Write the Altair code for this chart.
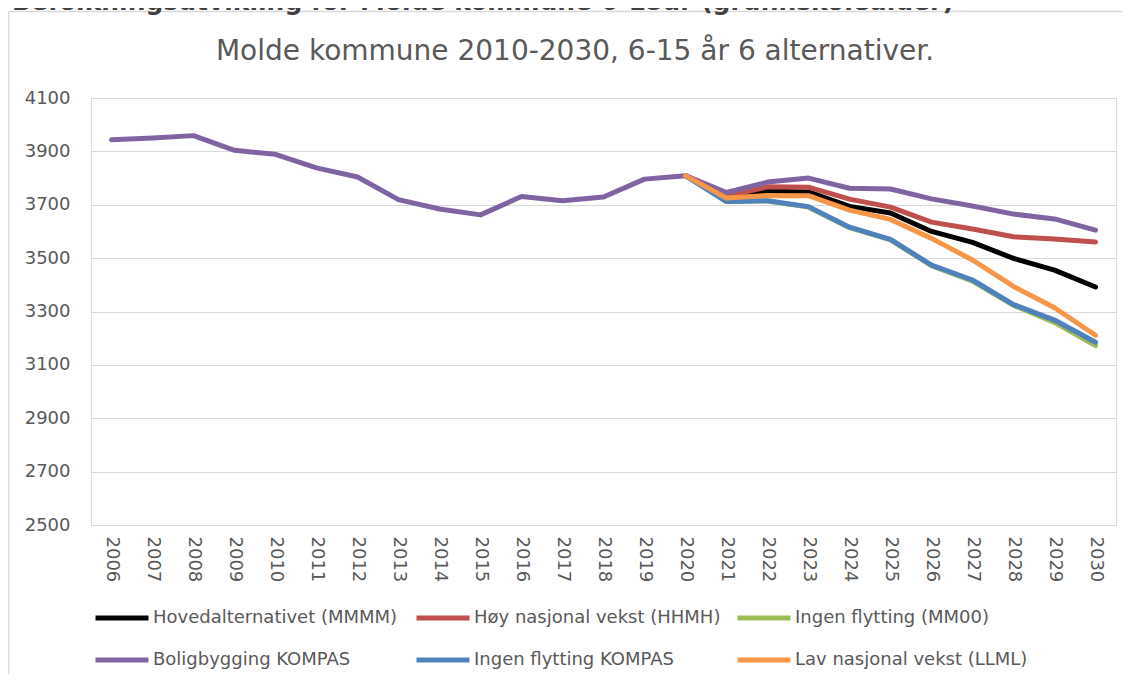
import altair as alt
import pandas as pd

# ---------------- data ----------------
years = [str(y) for y in range(2006, 2031)]
hist_years = years[:15]          # 2006-2020
proj_years = years[14:]          # 2020-2030

series_names = [
    "Hovedalternativet (MMMM)",
    "Høy nasjonal vekst (HHMH)",
    "Ingen flytting (MM00)",
    "Boligbygging KOMPAS",
    "Ingen flytting KOMPAS",
    "Lav nasjonal vekst (LLML)",
]
series_colors = ["#000000", "#C0504D", "#9BBB59", "#8064A2", "#4F81BD", "#F79646"]

# historical values (shown with the Boligbygging KOMPAS series)
historical = [3944, 3950, 3959, 3904, 3889, 3838, 3804, 3719, 3684, 3662,
              3731, 3715, 3729, 3796, 3809]

# projections 2020-2030
hovedalternativet = [3809, 3727, 3751, 3748, 3694, 3669, 3600, 3559, 3499, 3455, 3392]
hoy_vekst = [3809, 3732, 3767, 3766, 3721, 3691, 3635, 3609, 3580, 3572, 3560]
ingen_flytting = [3809, 3712, 3714, 3691, 3614, 3568, 3472, 3414, 3323, 3259, 3172]
boligbygging = [3809, 3746, 3785, 3800, 3762, 3759, 3722, 3695, 3665, 3647, 3605]
ingen_flytting_kompas = [3809, 3712, 3715, 3693, 3616, 3570, 3474, 3418, 3326, 3268, 3185]
lav_vekst = [3809, 3725, 3735, 3734, 3680, 3645, 3574, 3493, 3394, 3314, 3211]

y_ticks = [2500, 2700, 2900, 3100, 3300, 3500, 3700, 3900, 4100]

main_title = "Molde kommune 2010-2030, 6-15 år 6 alternativer."
page_title = "Befolkningsutvikling for Molde kommune 6-15år (grunnskolealder)"

# ---------------- table ----------------
series_values = [
    (series_names[0], proj_years, hovedalternativet),
    (series_names[1], proj_years, hoy_vekst),
    (series_names[2], proj_years, ingen_flytting),
    (series_names[3], hist_years + proj_years[1:], historical + boligbygging[1:]),
    (series_names[4], proj_years, ingen_flytting_kompas),
    (series_names[5], proj_years, lav_vekst),
]
rows = []
for k, (name, yrs, vals) in enumerate(series_values):
    for yr, v in zip(yrs, vals):
        rows.append({"series": name, "year": yr, "value": v, "z": k})
df = pd.DataFrame(rows)

# ---------------- styling ----------------
W, H = 1025, 427
FONT = "DejaVu Sans"
GRAY = "#595959"
GRID = "#d9d9d9"

lines = alt.Chart(df).mark_line(
    strokeWidth=5, strokeCap="round", strokeJoin="round"
).encode(
    x=alt.X("year:O", sort=years, scale=alt.Scale(domain=years),
            axis=alt.Axis(title=None, labelAngle=90, labelFont=FONT, labelFontSize=18,
                          labelColor=GRAY, ticks=False, domain=False, grid=False,
                          labelPadding=11)),
    y=alt.Y("value:Q", scale=alt.Scale(domain=[2500, 4100], nice=False, zero=False),
            axis=alt.Axis(title=None, values=y_ticks, format="d", ticks=False,
                          domain=False, grid=True, gridColor=GRID, gridWidth=1,
                          labelFont=FONT, labelFontSize=18, labelColor=GRAY,
                          labelPadding=21)),
    color=alt.Color("series:N",
                    scale=alt.Scale(domain=series_names, range=series_colors),
                    legend=alt.Legend(title=None, orient="none", legendX=2, legendY=510,
                                      direction="horizontal", columns=3, gridAlign="all",
                                      columnPadding=14, rowPadding=22, clipHeight=20,
                                      symbolType="stroke", symbolSize=2809,
                                      symbolStrokeWidth=5, labelFont=FONT,
                                      labelFontSize=18, labelColor=GRAY, labelOffset=2,
                                      padding=0, labelLimit=400)),
    detail="z:O",
)

one = pd.DataFrame({"t": [main_title], "p": [page_title]})

title_mark = alt.Chart(one).mark_text(
    font=FONT, fontSize=28, color=GRAY, align="center", baseline="alphabetic"
).encode(text="t:N", x=alt.value(484), y=alt.value(-38))

page_title_mark = alt.Chart(one).mark_text(
    font=FONT, fontSize=25, fontWeight="bold", color="#404040", align="left",
    baseline="alphabetic"
).encode(text="p:N", x=alt.value(-79), y=alt.value(-88))

border_left = alt.Chart(one).mark_rule(color=GRID, strokeWidth=1.5).encode(
    x=alt.value(-82.5), y=alt.value(-86.5), y2=alt.value(H + 160))
border_top = alt.Chart(one).mark_rule(color=GRID, strokeWidth=1.5).encode(
    x=alt.value(-82.5), x2=alt.value(W + 20), y=alt.value(-86.5))

chart = alt.layer(border_left, border_top, page_title_mark, title_mark, lines).properties(
    width=W, height=H,
    autosize=alt.AutoSizeParams(type="none"),
    padding={"left": 83, "top": 90, "right": 6, "bottom": 149},
).configure_view(stroke=None).configure(background="white")

chart.save("out.html", embed_options={"renderer": "svg", "actions": False})
